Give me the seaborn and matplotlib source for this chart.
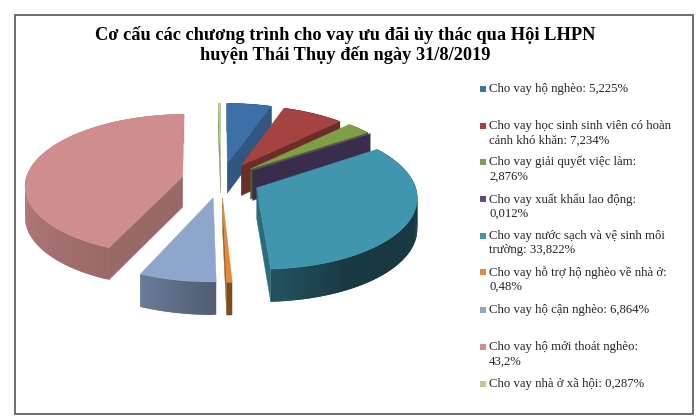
import numpy as np
import matplotlib
matplotlib.use("Agg")
import matplotlib.pyplot as plt
import seaborn as sns
from matplotlib.colors import to_rgb
from matplotlib.patches import Polygon, Rectangle

values = [5.225, 7.234, 2.876, 0.012, 33.822, 0.48, 6.864, 43.2, 0.287]
labels = [
    "Cho vay hộ nghèo: 5,225%",
    "Cho vay học sinh sinh viên có hoàn\ncảnh khó khăn: 7,234%",
    "Cho vay giải quyết việc làm:\n2,876%",
    "Cho vay xuất khẩu lao động:\n0,012%",
    "Cho vay nước sạch và vệ sinh môi\ntrường: 33,822%",
    "Cho vay hỗ trợ hộ nghèo về nhà ở:\n0,48%",
    "Cho vay hộ cận nghèo: 6,864%",
    "Cho vay hộ mới thoát nghèo:\n43,2%",
    "Cho vay nhà ở xã hội: 0,287%",
]
colors = ["#3c70a6", "#a44340", "#7f9f45", "#614a80", "#4096ae",
          "#e08a3c", "#8fa6cc", "#cf8e8d", "#b8cf8f"]
legend_y = [89, 126, 162, 199, 236, 272, 310, 347, 384]
title = "Cơ cấu các chương trình cho vay ưu đãi ủy thác qua Hội LHPN\nhuyện Thái Thụy đến ngày 31/8/2019"

sns.set_theme(style="white")
plt.rcParams["font.family"] = ["Liberation Serif", "DejaVu Serif"]
palette = sns.color_palette(colors)

# Fake 3D projection of the pie disc
CX, CY = 221, 180
RX, RY = 157, 70.2
PERSP = 0.114
EXPLODE = 0.25
DEPTH = 30.5


def project(u, v):
    s = 1 + PERSP * v
    return CX + RX * u / s, CY - RY * v / s, DEPTH / np.sqrt(s)


def shade(color, f):
    return tuple(c * f for c in to_rgb(color))


def wall_factor(a):
    return np.interp(a, [0, 150, 177, 203, 270, 360], [.38, .38, .55, .74, .87, .87])


def cut_factor(a):
    return np.interp(a, [19, 45, 55, 203], [.78, .65, .6, .74])


fig = plt.figure(figsize=(6.97, 4.18), dpi=100)
ax = fig.add_axes([0, 0, 1, 1])
ax.set_xlim(0, 697)
ax.set_ylim(418, 0)
ax.axis("off")

ax.add_patch(Rectangle((15, 15), 678, 399, fill=False, edgecolor="#555555", lw=1.2))
ax.text(345, 45, title, ha="center", va="center", fontsize=13.2, fontweight="bold",
        color="black", linespacing=1.08)

ends = np.cumsum(values) / np.sum(values) * 360
starts = np.concatenate([[0], ends[:-1]])

for a0, a1, col in zip(starts, ends, palette):
    mid = np.radians((a0 + a1) / 2)
    ex, ey = EXPLODE * np.sin(mid), EXPLODE * np.cos(mid)
    angles = np.linspace(a0, a1, max(int(a1 - a0) + 2, 2))
    rad = np.radians(angles)
    arc = [project(ex + np.sin(t), ey + np.cos(t)) for t in rad]
    apex = project(ex, ey)

    # outer wall, each quad runs under the next one so no seams show
    for i in range(len(arc) - 1):
        p, q = arc[i], arc[min(i + 2, len(arc) - 1)]
        c = shade(col, wall_factor((angles[i] + angles[i + 1]) / 2))
        ax.add_patch(Polygon([(p[0], p[1]), (q[0], q[1]), (q[0], q[1] + q[2]), (p[0], p[1] + p[2])],
                             facecolor=c, edgecolor="none"))

    # flat cut faces that look to the viewer
    for a, p, show in [(a0, arc[0], np.sin(np.radians(a0)) < 0),
                       (a1, arc[-1], np.sin(np.radians(a1)) > 0)]:
        if show:
            c = shade(col, cut_factor(a))
            ax.add_patch(Polygon([(apex[0], apex[1]), (p[0], p[1]), (p[0], p[1] + p[2]),
                                  (apex[0], apex[1] + apex[2])],
                                 facecolor=c, edgecolor=c, lw=0.3))

    # top face
    top = [(apex[0], apex[1])] + [(p[0], p[1]) for p in arc]
    ax.add_patch(Polygon(top, facecolor=col, edgecolor=col, lw=0.3))

# Legend
for y, lab, col in zip(legend_y, labels, palette):
    ax.add_patch(Rectangle((480, y - 3), 6, 6, facecolor=col, edgecolor="none"))
    ax.text(489, y - 6, lab, ha="left", va="top", fontsize=9.2, color="#222222", linespacing=1.27)

fig.savefig("out.png", dpi=100)
